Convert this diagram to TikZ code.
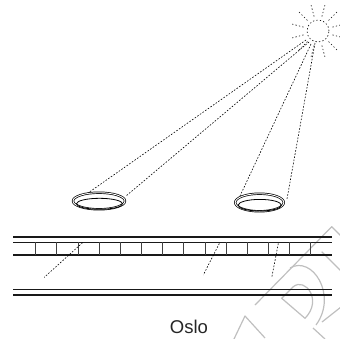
\documentclass[tikz,border=0pt]{standalone}
\usepackage{fontspec}
\setmainfont{Liberation Sans}
\usetikzlibrary{calc}
\begin{document}
\begin{tikzpicture}[x=1pt,y=-1pt,
  rail/.style={line width=1.2pt,black!90},
  tie/.style={line width=0.8pt,black!75},
  beam/.style={line width=0.6pt,dash pattern=on 1.6pt off 1.6pt},
  ray/.style={line width=0.6pt,dash pattern=on 1.3pt off 2.2pt},
  lensrim/.style={line width=0.7pt,double,double distance=0.9pt},
  lensin/.style={line width=0.8pt},
  stamp/.style={line width=1.2pt,gray!50,line join=round}]
\useasboundingbox (0,0) rectangle (340,338);

% sun
\coordinate (sun) at (318,31);
\draw[ray] (sun) circle[radius=11pt];
\foreach \a in {15,45,...,345}
  \draw[ray] ($(sun)+(\a:15pt)$) -- ($(sun)+(\a:27pt)$);

% lenses
\coordinate (lensA) at (99,201);
\coordinate (lensB) at (259.5,202.5);
\draw[lensrim] (lensA) ellipse[x radius=26pt,y radius=8.3pt];
\draw[lensin] ($(lensA)+(0.5,2.8)$) ellipse[x radius=23pt,y radius=5.5pt];
\draw[lensrim] (lensB) ellipse[x radius=24.3pt,y radius=8.8pt];
\draw[lensin] ($(lensB)+(0.3,2.7)$) ellipse[x radius=21.6pt,y radius=5.8pt];

% light paths from the sun to the lenses
\coordinate (s1) at (306,40);
\coordinate (s2) at (309,42);
\coordinate (s3) at (311,44);
\coordinate (s4) at (315,43);
\coordinate (a1) at (88,193);
\coordinate (a2) at (126,196);
\coordinate (b1) at (240,196);
\coordinate (b2) at (287,199);
\draw[beam] (s1) -- (a1);
\draw[beam] (s2) -- (a2);
\draw[beam] (s3) -- (b1);
\draw[beam] (s4) -- (b2);

% faint stamp outline (behind the track)
\draw[stamp] (255,305) -- (331.7,226.7) -- (341,236);
\draw[stamp] (321.7,251.7) -- (341,271);
\draw[stamp] (290,268) .. controls (312,255) and (338,295) .. (316,325);
\draw[stamp] (281.7,298.3) -- (293.3,286.7) .. controls (305,277) and (323,300) .. (305,318.3) -- cycle;
\draw[stamp] (234,339) -- (245,316) -- (265,338);
\draw[stamp] (313,328) -- (325,339);
\draw[stamp] (322,322) -- (341,307);

% track: double top rail, row of ties, double bottom rail
\draw[rail] (13,237) -- (332,237);
\draw[rail] (13,242.3) -- (332,242.3);
\draw[rail] (13,255) -- (332,255);
\foreach \i in {0,...,13}
  \draw[tie] ({35.7+21.15*\i},242.3) -- ({35.7+21.15*\i},255);
\draw[rail] (13,289.3) -- (332,289.3);
\draw[rail] (13,295) -- (332,295);

% focused beams below the track
\coordinate (c1) at (82.7,242.5);
\coordinate (d1) at (44.3,277.3);
\coordinate (c2) at (219.3,243.5);
\coordinate (d2) at (203.3,275);
\coordinate (c3) at (278.3,243.5);
\coordinate (d3) at (271.7,277.7);
\draw[beam] (c1) -- (d1);
\draw[beam] (c2) -- (d2);
\draw[beam] (c3) -- (d3);

\node[font=\fontsize{18.5}{18.5}\selectfont,text=black!85,inner sep=0] (city) at (189,326.5) {Oslo};
\end{tikzpicture}
\end{document}
